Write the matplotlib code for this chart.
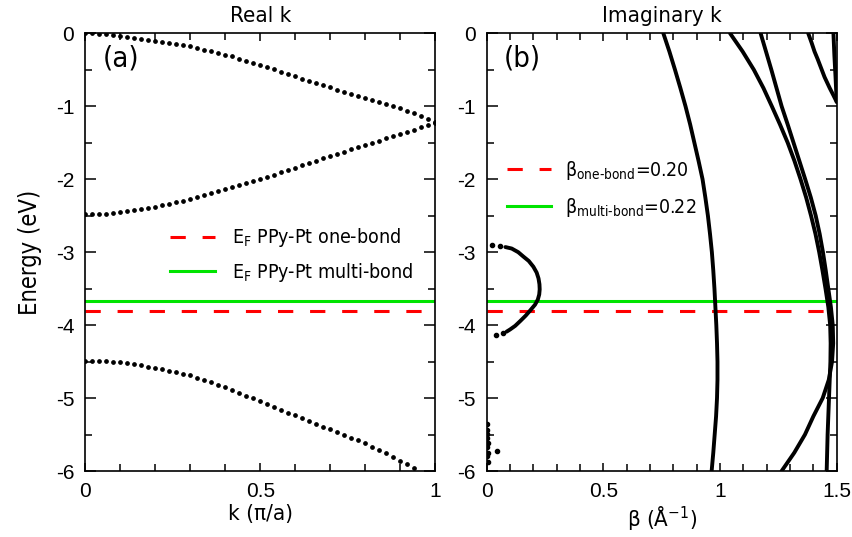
import matplotlib
matplotlib.use("Agg")
import matplotlib.pyplot as plt
import numpy as np
from matplotlib.ticker import MultipleLocator

plt.rcParams["font.family"] = "DejaVu Sans"
plt.rcParams["font.stretch"] = "condensed"
plt.rcParams["axes.unicode_minus"] = False
plt.rcParams["mathtext.default"] = "regular"

# ---- panel (a): real k bands (dotted) ----
k = np.linspace(0, 1, 51)
band_top = [0.000, -0.002, -0.006, -0.014, -0.026, -0.040, -0.051, -0.062, -0.074, -0.087,
            -0.100, -0.115, -0.130, -0.146, -0.163, -0.180, -0.201, -0.222, -0.244, -0.267,
            -0.290, -0.317, -0.345, -0.373, -0.401, -0.430, -0.462, -0.494, -0.526, -0.558,
            -0.590, -0.620, -0.650, -0.680, -0.710, -0.740, -0.770, -0.800, -0.830, -0.860,
            -0.890, -0.917, -0.945, -0.973, -1.001, -1.030, -1.062, -1.096, -1.132, -1.170,
            -1.215]
band_mid = [-2.480, -2.479, -2.476, -2.470, -2.461, -2.450, -2.438, -2.424, -2.410, -2.395,
            -2.380, -2.359, -2.338, -2.315, -2.293, -2.270, -2.244, -2.218, -2.192, -2.166,
            -2.140, -2.112, -2.084, -2.056, -2.028, -2.000, -1.968, -1.936, -1.904, -1.872,
            -1.840, -1.808, -1.776, -1.744, -1.712, -1.680, -1.650, -1.620, -1.590, -1.560,
            -1.530, -1.500, -1.470, -1.440, -1.410, -1.380, -1.350, -1.320, -1.290, -1.260,
            -1.230]
band_low = [-4.490, -4.491, -4.493, -4.497, -4.503, -4.511, -4.523, -4.537, -4.553, -4.571,
            -4.590, -4.608, -4.627, -4.648, -4.669, -4.690, -4.721, -4.753, -4.786, -4.819,
            -4.852, -4.890, -4.928, -4.966, -5.003, -5.040, -5.079, -5.118, -5.158, -5.198,
            -5.238, -5.276, -5.314, -5.352, -5.390, -5.428, -5.466, -5.504, -5.542, -5.580,
            -5.620, -5.665, -5.712, -5.760, -5.810, -5.860, -5.910, -5.960]

# Fermi levels
ef_one = -3.80
ef_multi = -3.67

# ---- panel (b): imaginary k (complex bands) ----
e_grid = [0.0, -0.25, -0.5, -0.75, -1.0, -1.25, -1.5, -1.75, -2.0, -2.25, -2.5, -2.75, -3.0,
          -3.25, -3.5, -3.75, -4.0, -4.25, -4.5, -4.75, -5.0, -5.25, -5.5, -5.75, -6.0]
curveA_b = [0.757, 0.783, 0.807, 0.830, 0.852, 0.872, 0.890, 0.908, 0.925, 0.937, 0.948, 0.957,
            0.965, 0.971, 0.976, 0.980, 0.984, 0.987, 0.989, 0.989, 0.987, 0.983, 0.977, 0.971,
            0.964]
curveB_b = [1.043, 1.097, 1.145, 1.186, 1.222, 1.257, 1.290, 1.319, 1.345, 1.369, 1.390, 1.409,
            1.425, 1.439, 1.452, 1.464, 1.472, 1.474, 1.473, 1.470, 1.467, 1.464, 1.461, 1.459,
            1.457]
curveC_b = [1.174, 1.197, 1.220, 1.242, 1.264, 1.290, 1.315, 1.340, 1.365, 1.389, 1.410, 1.427,
            1.441, 1.453, 1.464, 1.475, 1.483, 1.485, 1.480, 1.466, 1.440, 1.400, 1.364, 1.318,
            1.264]

curveD_b = [1.378, 1.392, 1.405, 1.418, 1.430, 1.448, 1.470, 1.486, 1.500]
curveD_e = [0.0, -0.125, -0.25, -0.35, -0.45, -0.60, -0.75, -0.85, -0.94]

curveE_b = [1.486, 1.490, 1.495, 1.500]
curveE_e = [0.0, -0.30, -0.60, -0.94]

loop_b = [0.080, 0.107, 0.135, 0.157, 0.180, 0.200, 0.214, 0.222, 0.226, 0.227, 0.225, 0.219,
          0.207, 0.186, 0.167, 0.145, 0.122, 0.100, 0.085]
loop_e = [-2.93, -2.95, -3.00, -3.06, -3.12, -3.20, -3.28, -3.36, -3.44, -3.51, -3.58, -3.65,
          -3.72, -3.80, -3.87, -3.94, -4.01, -4.06, -4.09]

loose_b = [0.021, 0.055, 0.069, 0.039, 0.0, 0.002, 0.0, 0.002, 0.005, 0.002, 0.005, 0.002, 0.005, 0.045]
loose_e = [-2.90, -2.91, -4.11, -4.14, -5.36, -5.44, -5.49, -5.55, -5.62, -5.67, -5.75, -5.80, -5.87, -5.73]

fig = plt.figure(figsize=(8.53, 5.37), dpi=100)
ax1 = fig.add_axes([0.100, 0.1229, 0.4103, 0.815])
ax2 = fig.add_axes([0.5706, 0.1229, 0.4103, 0.815])

dot = dict(linestyle="none", marker="o", markersize=2.4, color="black")
ax1.plot(k, band_top, **dot)
ax1.plot(k, band_mid, **dot)
ax1.plot(k[:len(band_low)], band_low, **dot)

green = "#00e400"
for ax in (ax1, ax2):
    ax.axhline(ef_multi, color=green, lw=2.2)
    ax.axhline(ef_one, color="red", lw=2.2, dashes=(5, 5.5))

ax1.plot([], [], color="red", lw=2.2, dashes=(5, 5.5), label=r"E$_\mathregular{F}$ PPy-Pt one-bond")
ax1.plot([], [], color=green, lw=2.2, label=r"E$_\mathregular{F}$ PPy-Pt multi-bond")

line = dict(color="black", lw=2.8, solid_capstyle="round")
ax2.plot(curveA_b, e_grid, **line)
ax2.plot(curveB_b, e_grid, **line)
ax2.plot(curveC_b, e_grid, **line)
ax2.plot(curveD_b, curveD_e, **line)
ax2.plot(curveE_b, curveE_e, **line)
ax2.plot(loop_b, loop_e, **line)
ax2.plot(loose_b, loose_e, linestyle="none", marker="o", markersize=3, color="black")

ax2.plot([], [], color="red", lw=2.2, dashes=(5, 5.5), label=r"β$_\text{one-bond}$=0.20")
ax2.plot([], [], color=green, lw=2.2, label=r"β$_\text{multi-bond}$=0.22")

ax1.set_xlim(0, 1)
ax2.set_xlim(0, 1.5)
yt = [0, -1, -2, -3, -4, -5, -6]
for ax in (ax1, ax2):
    ax.set_ylim(-6, 0)
    ax.xaxis.set_minor_locator(MultipleLocator(0.1))
    ax.yaxis.set_minor_locator(MultipleLocator(0.5))
    ax.set_yticks(yt)
    ax.set_yticklabels([str(v) for v in yt])
    ax.tick_params(which="both", direction="in", top=True, right=True, width=1.1)
    ax.tick_params(which="major", axis="y", length=8)
    ax.tick_params(which="minor", axis="y", length=5)
    ax.tick_params(which="major", axis="x", length=5.5)
    ax.tick_params(which="minor", axis="x", length=5)
    ax.tick_params(which="major", labelsize=15, pad=8)
    for sp in ax.spines.values():
        sp.set_linewidth(1.2)

ax1.set_xticks([0, 0.5, 1])
ax1.set_xticklabels(["0", "0.5", "1"])
ax2.set_xticks([0, 0.5, 1, 1.5])
ax2.set_xticklabels(["0", "0.5", "1", "1.5"])
for ax in (ax1, ax2):
    for lab in ax.get_xticklabels() + ax.get_yticklabels():
        lab.set_family("Liberation Sans")
        lab.set_stretch("normal")

ax1.set_title("Real k", fontsize=16, pad=8)
ax2.set_title("Imaginary k", fontsize=16, pad=8)
ax1.set_xlabel("k (π/a)", fontsize=16, labelpad=2)
ax2.set_xlabel(r"β (Å$^\mathregular{-1}$)", fontsize=16, labelpad=2)
ax1.set_ylabel("Energy (eV)", fontsize=17, labelpad=10)

ax1.text(0.05, -0.35, "(a)", fontsize=21, ha="left", va="center")
ax2.text(0.075, -0.35, "(b)", fontsize=21, ha="left", va="center")

ax1.legend(loc="upper left", bbox_to_anchor=(0.242, 0.559), frameon=False, fontsize=14,
           handlelength=2.3, handletextpad=0.9, labelspacing=0.6, borderpad=0, borderaxespad=0)
ax2.legend(loc="upper left", bbox_to_anchor=(0.057, 0.713), frameon=False, fontsize=14,
           handlelength=2.3, handletextpad=0.7, labelspacing=0.7, borderpad=0, borderaxespad=0)

fig.savefig("out.png", dpi=100)
